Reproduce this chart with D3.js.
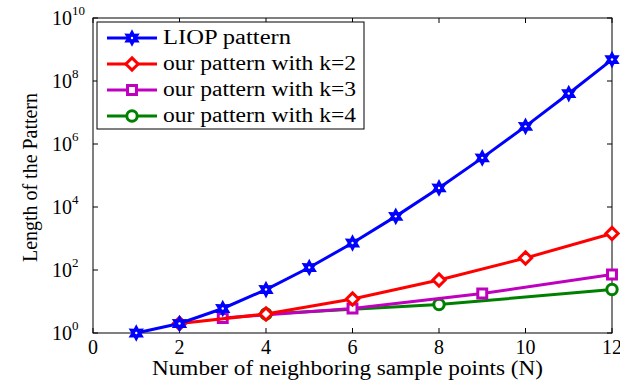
<!DOCTYPE html>
<html>
<head>
<meta charset="utf-8">
<script src="https://cdn.jsdelivr.net/npm/d3@7"></script>
<style>
  body { margin: 0; background: #fff; }
</style>
</head>
<body>
<div id="chart"></div>
<script>
// series
const liopN = [1, 2, 3, 4, 5, 6, 7, 8, 9, 10, 11, 12];
const liopLen = [1, 2, 6, 24, 120, 720, 5040, 40320, 362880, 3628800, 39916800, 479001600];
const k2N = [2, 4, 6, 8, 10, 12];
const k2Len = [2, 4, 12, 48, 240, 1440];
const k3N = [3, 6, 9, 12];
const k3Len = [3, 6, 18, 72];
const k4N = [4, 8, 12];
const k4Len = [4, 8, 24];

const xTicks = [0, 2, 4, 6, 8, 10, 12];
const yTickExps = [0, 2, 4, 6, 8, 10];

const seriesNames = ["LIOP pattern", "our pattern with k=2", "our pattern with k=3", "our pattern with k=4"];

const width = 620, height = 383;
const margin = { top: 18, right: 8, bottom: 50, left: 93 };
const serif = "'Liberation Serif', 'Times New Roman', Times, 'DejaVu Serif', serif";

const svg = d3.select("#chart").append("svg")
  .attr("width", width)
  .attr("height", height)
  .attr("font-family", serif)
  .style("font-family", serif);

const x = d3.scaleLinear().domain([0, 12]).range([margin.left, width - margin.right]);
const y = d3.scaleLog().domain([1, 1e10]).range([height - margin.bottom, margin.top]);

const x0 = x.range()[0], x1 = x.range()[1];
const y0 = y.range()[0], y1 = y.range()[1];

// axes: box with inward ticks on all sides
const tickLen = 5;
const axisG = svg.append("g");

axisG.append("rect")
  .attr("x", x0).attr("y", y1)
  .attr("width", x1 - x0).attr("height", y0 - y1)
  .attr("fill", "none").attr("stroke", "#000").attr("stroke-width", 1);

xTicks.forEach(t => {
  axisG.append("line").attr("x1", x(t)).attr("x2", x(t)).attr("y1", y0).attr("y2", y0 - tickLen).attr("stroke", "#000");
  axisG.append("line").attr("x1", x(t)).attr("x2", x(t)).attr("y1", y1).attr("y2", y1 + tickLen).attr("stroke", "#000");
  axisG.append("text")
    .attr("x", x(t)).attr("y", y0 + 21)
    .attr("text-anchor", "middle")
    .attr("font-size", 20)
    .text(t);
});

yTickExps.forEach(e => {
  const v = Math.pow(10, e);
  axisG.append("line").attr("x1", x0).attr("x2", x0 + tickLen).attr("y1", y(v)).attr("y2", y(v)).attr("stroke", "#000");
  axisG.append("line").attr("x1", x1).attr("x2", x1 - tickLen).attr("y1", y(v)).attr("y2", y(v)).attr("stroke", "#000");
  const lbl = axisG.append("text")
    .attr("x", 52).attr("y", y(v) + 7)
    .attr("font-size", 20);
  lbl.append("tspan").text("10");
  lbl.append("tspan").attr("font-size", 13).attr("dy", -10).text(e);
});

svg.append("text")
  .attr("x", 152).attr("y", 375)
  .attr("font-size", 20)
  .attr("textLength", 391)
  .attr("lengthAdjust", "spacingAndGlyphs")
  .text("Number of neighboring sample points (N)");

svg.append("text")
  .attr("transform", `translate(37,262) rotate(-90)`)
  .attr("font-size", 20)
  .attr("textLength", 169)
  .attr("lengthAdjust", "spacingAndGlyphs")
  .text("Length of the Pattern");

// marker shapes
const hexagram = d3.symbol().type({
  draw(ctx, size) {
    const R = Math.sqrt(size) / 2, r = R * 0.55;
    for (let i = 0; i < 12; i++) {
      const a = -Math.PI / 2 + i * Math.PI / 6;
      const rr = i % 2 === 0 ? R : r;
      const px = rr * Math.cos(a), py = rr * Math.sin(a);
      if (i === 0) ctx.moveTo(px, py); else ctx.lineTo(px, py);
    }
    ctx.closePath();
  }
}).size(210);
const diamond = d3.symbol().type({
  draw(ctx, size) {
    const h = Math.sqrt(size) / 2;
    ctx.moveTo(0, -h); ctx.lineTo(h, 0); ctx.lineTo(0, h); ctx.lineTo(-h, 0); ctx.closePath();
  }
}).size(150);
const square = d3.symbol().type(d3.symbolSquare).size(80);
const circle = d3.symbol().type(d3.symbolCircle).size(85);

const series = [
  { name: seriesNames[0], xs: liopN, ys: liopLen, color: "#0000ff", marker: hexagram, face: "#0000ff", tl: 128 },
  { name: seriesNames[1], xs: k2N, ys: k2Len, color: "#ff0000", marker: diamond, face: "#fff", tl: 193 },
  { name: seriesNames[2], xs: k3N, ys: k3Len, color: "#bf00bf", marker: square, face: "#fff", tl: 193 },
  { name: seriesNames[3], xs: k4N, ys: k4Len, color: "#008000", marker: circle, face: "#fff", tl: 193 }
];

const line = d3.line().x(d => x(d[0])).y(d => y(d[1]));

function drawMarker(g, s, tx, ty) {
  g.append("path")
    .attr("transform", `translate(${tx},${ty})`)
    .attr("d", s.marker)
    .attr("fill", s.face)
    .attr("stroke", s.color)
    .attr("stroke-width", s.face === "#fff" ? 3 : 1.5)
    .attr("stroke-linejoin", "miter");
  if (s.face !== "#fff") {
    // small light centre on the star markers
    g.append("circle").attr("cx", tx).attr("cy", ty).attr("r", 1.2).attr("fill", "#fff");
  }
}

const plot = svg.append("g");
// draw in reverse so LIOP is on top
series.slice().reverse().forEach(s => {
  const pts = s.xs.map((n, i) => [n, s.ys[i]]);
  plot.append("path")
    .datum(pts)
    .attr("d", line)
    .attr("fill", "none")
    .attr("stroke", s.color)
    .attr("stroke-width", 3);
  pts.forEach(d => drawMarker(plot, s, x(d[0]), y(d[1])));
});

// legend
const lg = svg.append("g").attr("transform", "translate(97,22)");
lg.append("rect")
  .attr("width", 267).attr("height", 107)
  .attr("fill", "#fff").attr("stroke", "#000").attr("stroke-width", 1);
series.forEach((s, i) => {
  const cy = 16 + i * 26;
  lg.append("line")
    .attr("x1", 10).attr("x2", 60).attr("y1", cy).attr("y2", cy)
    .attr("stroke", s.color).attr("stroke-width", 3);
  drawMarker(lg, s, 35, cy);
  lg.append("text")
    .attr("x", 66).attr("y", cy + 6)
    .attr("font-size", 20)
    .attr("textLength", s.tl)
    .attr("lengthAdjust", "spacingAndGlyphs")
    .text(s.name);
});
</script>
</body>
</html>
